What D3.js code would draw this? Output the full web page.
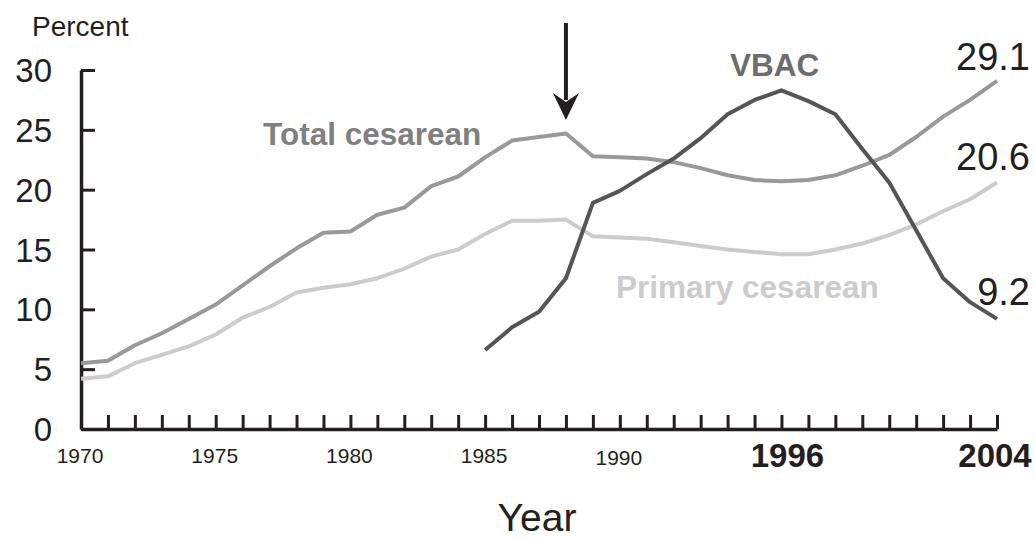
<!DOCTYPE html>
<html>
<head>
<meta charset="utf-8">
<script src="https://cdn.jsdelivr.net/npm/d3@7"></script>
<style>
  body { margin: 0; background: #fff; }
  text { font-family: "Liberation Sans", Arial, Helvetica, sans-serif; }
</style>
</head>
<body>
<div id="chart"></div>
<script>
const WIDTH  = 1035;
const HEIGHT = 540;

// Years and the three series (percent)
const years = d3.range(1970, 2005);
const totalCesarean = [5.5, 5.7, 7.0, 8.0, 9.2, 10.4, 12.0, 13.6, 15.1, 16.4,
                       16.5, 17.9, 18.5, 20.3, 21.1, 22.7, 24.1, 24.4, 24.7, 22.8,
                       22.7, 22.6, 22.3, 21.8, 21.2, 20.8, 20.7, 20.8, 21.2, 22.0,
                       22.9, 24.4, 26.1, 27.5, 29.1];
const primaryCesarean = [4.2, 4.4, 5.5, 6.2, 6.9, 7.9, 9.3, 10.2, 11.4, 11.8,
                         12.1, 12.6, 13.4, 14.4, 15.0, 16.3, 17.4, 17.4, 17.5, 16.1,
                         16.0, 15.9, 15.6, 15.3, 15.0, 14.8, 14.6, 14.6, 15.0, 15.5,
                         16.2, 17.1, 18.2, 19.2, 20.6];
const vbacYears = d3.range(1985, 2005);
const vbac = [6.6, 8.5, 9.8, 12.6, 18.9, 19.9, 21.3, 22.6, 24.3, 26.3,
              27.5, 28.3, 27.4, 26.3, 23.4, 20.6, 16.6, 12.6, 10.6, 9.2];

// Tick labels
const yTicks = [0, 5, 10, 15, 20, 25, 30];
const xLabels = [1970, 1975, 1980, 1985, 1990, 1996, 2004];
const boldYears = [1996, 2004];

const AXIS_COLOR = "#231f20";

const x = d3.scaleLinear().domain([1970, 2004]).range([81, 997]);
const y = d3.scaleLinear().domain([0, 30]).range([429, 70]);

const svg = d3.select("#chart").append("svg")
  .attr("width", WIDTH)
  .attr("height", HEIGHT);

// X axis - a tick each year, ticks pointing up
const xAxis = d3.axisBottom(x)
  .tickValues(years)
  .tickSizeInner(-14)
  .tickSizeOuter(0)
  .tickFormat("");
const gx = svg.append("g")
  .attr("transform", "translate(0," + y(0) + ")")
  .call(xAxis);

// Y axis - ticks pointing right
const yAxis = d3.axisLeft(y)
  .tickValues(yTicks)
  .tickSizeInner(-14)
  .tickSizeOuter(0)
  .tickFormat("");
const gy = svg.append("g")
  .attr("transform", "translate(" + x(1970) + ",0)")
  .call(yAxis);

[gx, gy].forEach(g => {
  g.select(".domain").attr("stroke", AXIS_COLOR).attr("stroke-width", 3.5);
  g.selectAll(".tick line").attr("stroke", AXIS_COLOR).attr("stroke-width", 3);
});

// Y tick labels
svg.selectAll(".ylab")
  .data(yTicks)
  .enter().append("text")
    .attr("x", 52)
    .attr("y", d => y(d) + 12)
    .attr("text-anchor", "end")
    .style("font-size", "33px")
    .style("fill", AXIS_COLOR)
    .text(d => d);

// X tick labels (small ones centred on ticks, bold ones nudged to fit)
const xLabelShift = { 1996: 6, 2004: -2 };
svg.selectAll(".xlab")
  .data(xLabels)
  .enter().append("text")
    .attr("x", d => x(d) + (xLabelShift[d] || -1))
    .attr("y", d => boldYears.includes(d) ? 467 : (d == 1990 ? 465 : 463))
    .attr("text-anchor", "middle")
    .style("font-size", d => boldYears.includes(d) ? "33px" : "21px")
    .style("font-weight", d => boldYears.includes(d) ? "bold" : "normal")
    .style("fill", AXIS_COLOR)
    .text(d => d);

// Axis titles
svg.append("text")
  .attr("x", 32).attr("y", 36)
  .style("font-size", "28px")
  .style("fill", AXIS_COLOR)
  .text("Percent");

svg.append("text")
  .attr("x", 537).attr("y", 531)
  .attr("text-anchor", "middle")
  .style("font-size", "39px")
  .style("fill", AXIS_COLOR)
  .text("Year");

// Lines
const line = d3.line()
  .x(d => x(d[0]))
  .y(d => y(d[1]));

const series = [
  { yrs: years,     vals: primaryCesarean, color: "#cccccc" },
  { yrs: years,     vals: totalCesarean,   color: "#999999" },
  { yrs: vbacYears, vals: vbac,            color: "#555555" }
];

series.forEach(s => {
  svg.append("path")
    .datum(d3.zip(s.yrs, s.vals))
    .attr("d", line)
    .attr("fill", "none")
    .attr("stroke", s.color)
    .attr("stroke-width", 4)
    .attr("stroke-linejoin", "round");
});

// Series labels
svg.append("text")
  .attr("x", 263).attr("y", 145)
  .style("font-size", "31.5px").style("font-weight", "bold")
  .style("fill", "#808080")
  .text("Total cesarean");

svg.append("text")
  .attr("x", 730).attr("y", 76)
  .style("font-size", "31.5px").style("font-weight", "bold")
  .style("fill", "#6d6d6d")
  .text("VBAC");

svg.append("text")
  .attr("x", 616).attr("y", 298)
  .style("font-size", "31.5px").style("font-weight", "bold")
  .style("fill", "#cccccc")
  .text("Primary cesarean");

// End values
const endLabels = [
  { v: totalCesarean[totalCesarean.length - 1], y: 70 },
  { v: primaryCesarean[primaryCesarean.length - 1], y: 170 },
  { v: vbac[vbac.length - 1], y: 305 }
];
svg.selectAll(".endlab")
  .data(endLabels)
  .enter().append("text")
    .attr("x", 1030)
    .attr("y", d => d.y)
    .attr("text-anchor", "end")
    .style("font-size", "38px")
    .style("fill", AXIS_COLOR)
    .text(d => d.v.toFixed(1));

// Arrow pointing at 1988
const ax = x(1988);
svg.append("line")
  .attr("x1", ax).attr("y1", 23)
  .attr("x2", ax).attr("y2", 100)
  .attr("stroke", AXIS_COLOR)
  .attr("stroke-width", 4);
svg.append("path")
  .attr("d", "M" + ax + ",120 L" + (ax - 13) + ",93 L" + ax + ",102 L" + (ax + 13) + ",93 Z")
  .attr("fill", AXIS_COLOR);
</script>
</body>
</html>
